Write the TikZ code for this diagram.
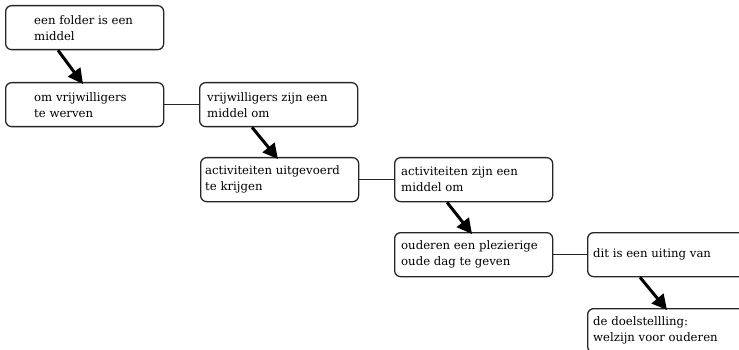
\documentclass[tikz,border=0pt]{standalone}
\usepackage{fontspec}
\setmainfont{DejaVu Serif}
\usetikzlibrary{arrows.meta,calc}
\begin{document}
\begin{tikzpicture}[x=1pt,y=-1pt,
  box/.style={draw=black!85,line width=1.3pt,rounded corners=6pt,minimum width=158pt,minimum height=44pt,anchor=north west,inner sep=0pt},
  txt/.style={anchor=west,align=left,inner sep=0pt,font=\fontsize{11.7}{16}\selectfont},
  link/.style={draw=black!85,line width=1.2pt},
  arr/.style={line width=3pt,-{Triangle[length=15pt,width=15pt]}}]
\useasboundingbox[clip] (0,0) rectangle (739,350);
\node[box] (b1) at (5,5) {};
\node[box] (b2) at (5,82) {};
\node[box] (b3) at (199,82) {};
\node[box] (b4) at (200,157) {};
\node[box] (b5) at (394,157) {};
\node[box] (b6) at (394,232) {};
\node[box] (b7) at (587,232) {};
\node[box] (b8) at (587,308) {};
\node[txt] (t1) at ([xshift=29pt]b1.west) {een folder is een\\middel};
\node[txt] (t2) at ([xshift=29pt]b2.west) {om vrijwilligers\\te werven};
\node[txt] (t3) at ([xshift=8pt]b3.west) {vrijwilligers zijn een\\middel om};
\node[txt] (t4) at ([xshift=5pt]b4.west) {activiteiten uitgevoerd\\te krijgen};
\node[txt] (t5) at ([xshift=7pt]b5.west) {activiteiten zijn een\\middel om};
\node[txt] (t6) at ([xshift=7pt]b6.west) {ouderen een plezierige\\oude dag te geven};
\node[txt] (t7) at ([xshift=6pt]b7.west) {dit is een uiting van};
\node[txt] (t8) at ([xshift=6pt]b8.west) {de doelstellling:\\welzijn voor ouderen};
\draw[link] (b2.east) -- (b3.west);
\draw[link] (b4.east) -- (b5.west);
\draw[link] (b6.east) -- (b7.west);
\draw[arr] ([xshift=53pt]b1.south west) -- ([xshift=78pt,yshift=-2pt]b2.north west);
\draw[arr] ([xshift=53pt]b3.south west) -- ([xshift=78pt,yshift=-2pt]b4.north west);
\draw[arr] ([xshift=53pt]b5.south west) -- ([xshift=78pt,yshift=-2pt]b6.north west);
\draw[arr] ([xshift=53pt]b7.south west) -- ([xshift=80pt,yshift=-2pt]b8.north west);
\end{tikzpicture}
\end{document}
